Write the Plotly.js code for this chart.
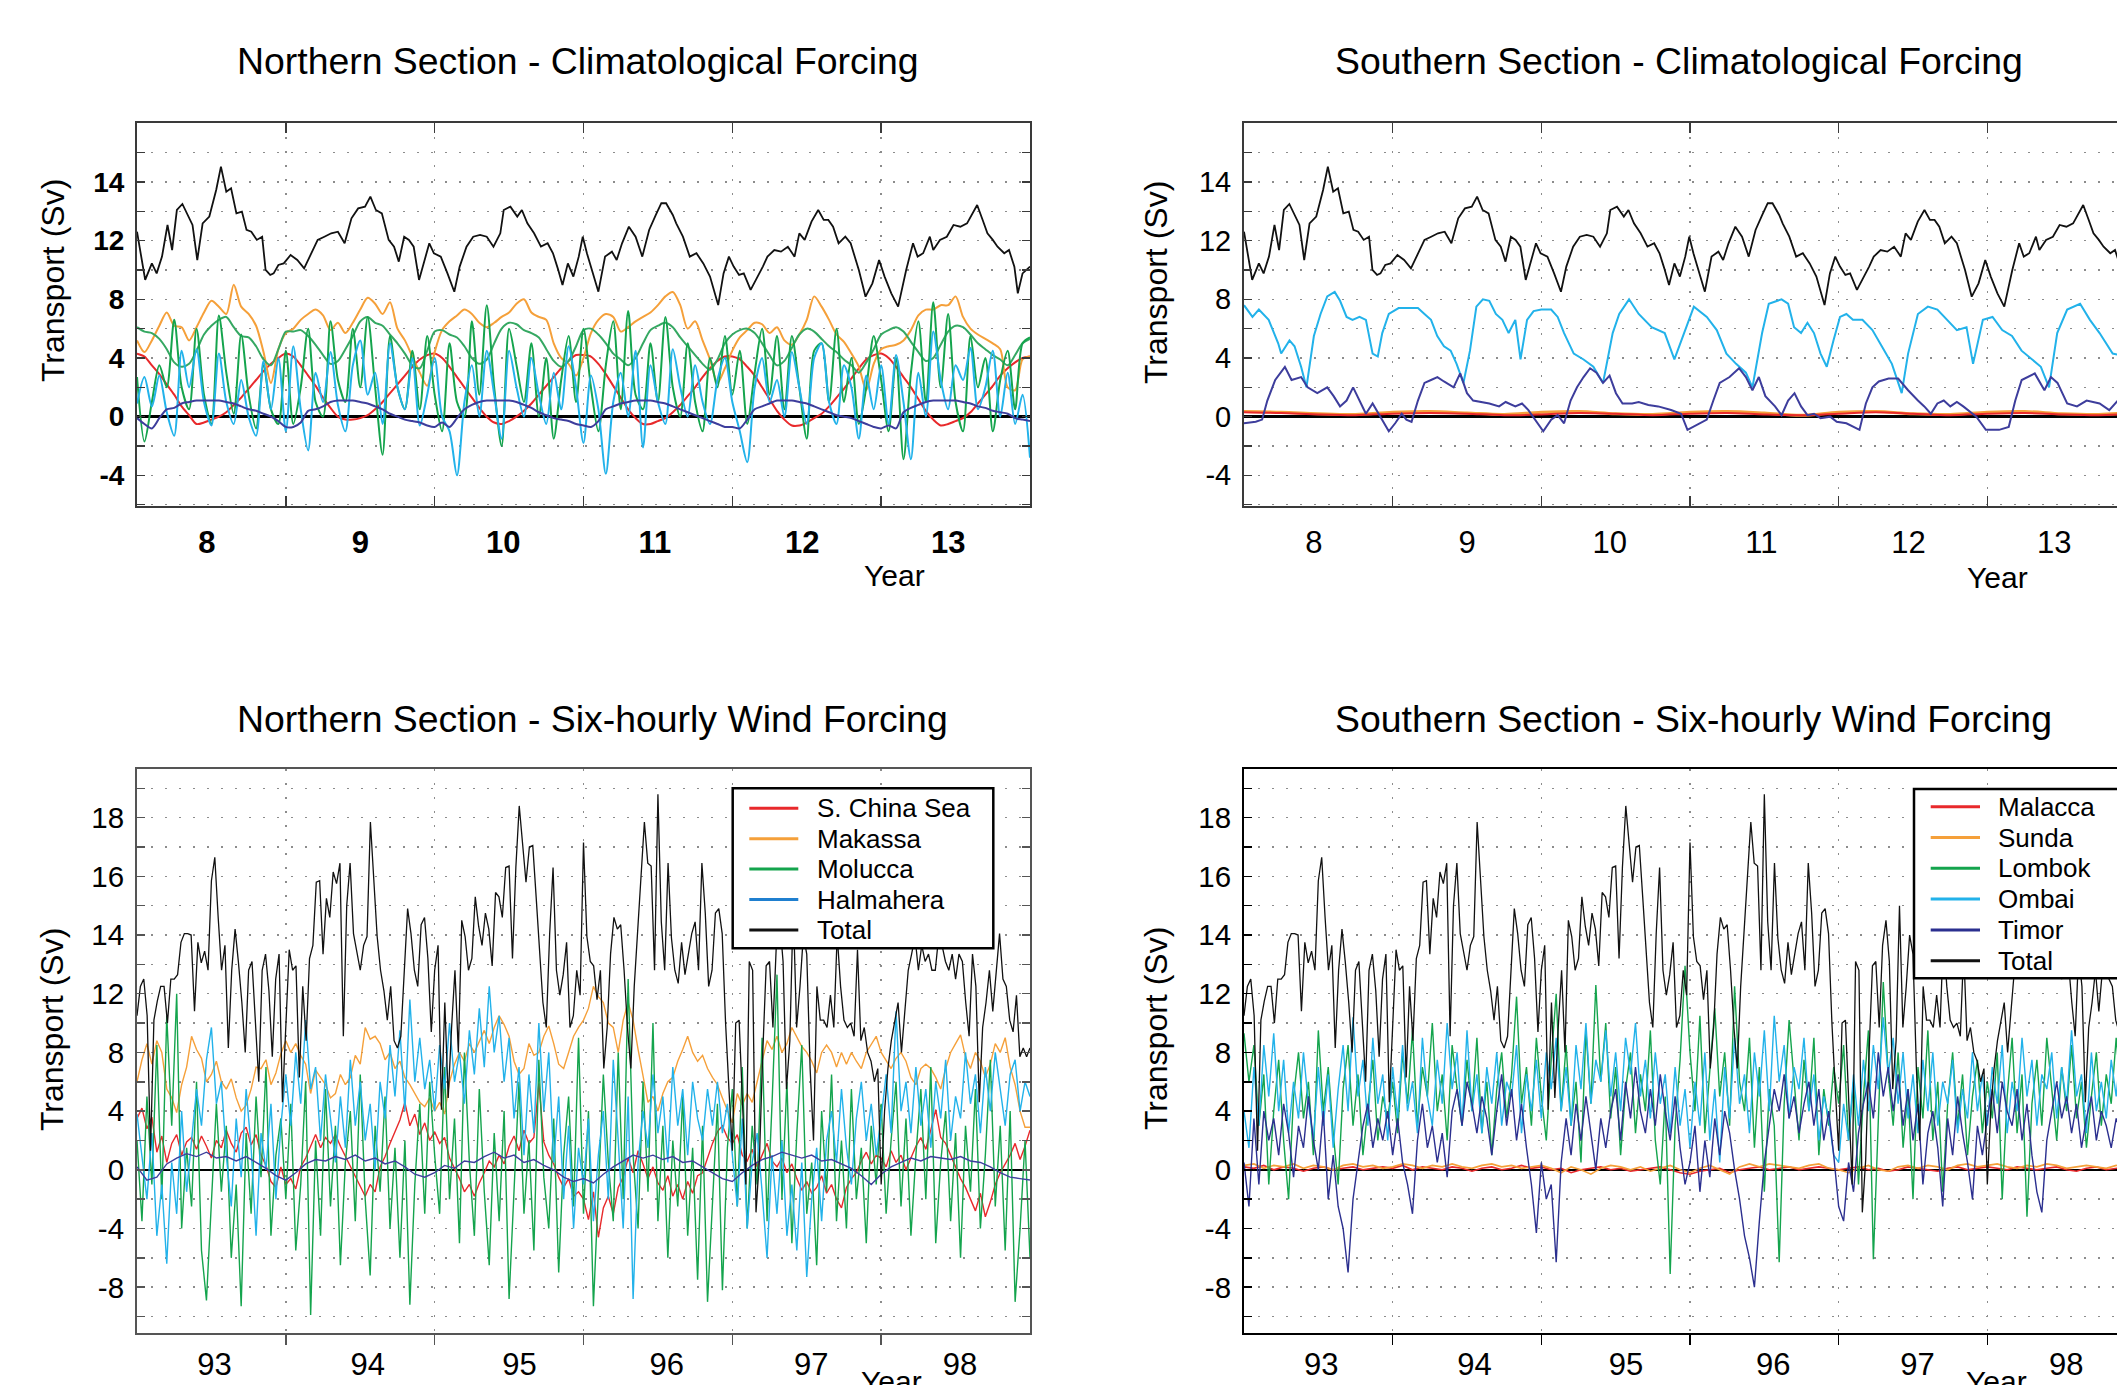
<!DOCTYPE html>
<html><head><meta charset="utf-8">
<script src="https://cdn.plot.ly/plotly-3.0.1.min.js"></script>
<style>html,body{margin:0;padding:0;overflow:hidden;background:#fff}#chart{width:2150px;height:1420px}</style>
</head><body><div id="chart"></div>
<script>
// ---------------- DATA ----------------
// Climatological forcing runs (model years 8-14); sampled every 0.05 yr unless paired with explicit years
const climStart = 8, climStep = 0.05, climSlowStep = 0.25;
const climTicks = ['8','9','10','11','12','13'];
const climTickPos = [8.47, 9.5, 10.46, 11.48, 12.47, 13.45];
const yTopTickVals = [-4, 0, 4, 8, 12, 16];
const yTopTickText = ['-4', '0', '4', '8', '12', '14'];

const climTotalYears = [8.000,8.055,8.100,8.132,8.168,8.205,8.236,8.268,8.305,8.373,8.405,8.441,8.486,8.532,8.564,8.600,8.632,8.668,8.705,8.736,8.768,8.805,8.841,8.864,8.895,8.918,8.950,8.986,9.032,9.077,9.123,9.168,9.214,9.259,9.305,9.350,9.395,9.441,9.486,9.532,9.568,9.605,9.645,9.691,9.727,9.759,9.795,9.827,9.859,9.895,9.932,9.964,9.995,10.041,10.086,10.132,10.168,10.214,10.259,10.305,10.350,10.395,10.441,10.464,10.509,10.555,10.586,10.623,10.668,10.714,10.759,10.795,10.827,10.859,10.895,10.932,10.968,10.995,11.023,11.055,11.100,11.145,11.191,11.223,11.259,11.305,11.350,11.395,11.441,11.486,11.523,11.555,11.600,11.623,11.668,11.714,11.759,11.805,11.850,11.905,11.941,11.977,12.009,12.045,12.077,12.123,12.159,12.205,12.236,12.282,12.327,12.373,12.418,12.450,12.486,12.532,12.577,12.614,12.645,12.677,12.714,12.759,12.795,12.850,12.895,12.941,12.986,13.023,13.068,13.114,13.168,13.214,13.245,13.282,13.327,13.350,13.395,13.441,13.486,13.532,13.577,13.614,13.645,13.682,13.714,13.750,13.782,13.827,13.859,13.895,13.918,13.950,14.000];
const climTotal = [12.61,9.32,10.45,9.77,10.91,13.07,11.36,14.09,14.5,13.07,10.68,13.18,13.64,15.45,17.05,15.34,15.57,13.86,13.98,12.73,12.61,12.05,12.27,10.0,9.66,9.77,10.34,10.45,11.02,10.68,10.11,11.02,12.05,12.27,12.5,12.61,11.82,13.52,14.2,14.32,15.0,14.09,13.86,12.05,11.59,10.57,12.27,12.05,11.59,9.32,10.68,11.82,11.14,10.91,9.77,8.52,10.23,11.59,12.27,12.39,12.27,11.59,12.5,14.09,14.32,13.64,14.09,13.18,12.5,11.59,11.82,11.14,10.11,8.98,10.45,9.55,10.91,12.27,11.14,10.0,8.52,10.91,11.25,10.68,11.82,12.95,12.27,10.91,12.73,13.75,14.55,14.55,13.75,13.18,12.27,10.91,11.14,10.45,9.55,7.61,9.77,10.91,10.23,9.66,9.77,8.64,9.32,10.23,10.91,11.36,11.25,11.59,10.91,12.5,12.05,13.3,14.09,13.41,13.41,12.95,11.82,12.27,11.82,10.0,8.18,9.09,10.68,9.55,8.41,7.5,10.0,11.82,10.91,11.14,12.27,11.36,12.05,12.27,13.07,12.95,13.18,13.86,14.43,13.41,12.5,12.05,11.59,11.14,11.36,10.23,8.41,9.77,10.23];

const climSChina = [4.3,4.1,3.5,2.9,2.2,1.5,0.7,0.1,-0.5,-0.4,-0.2,0.0,0.3,0.8,1.3,1.9,2.5,3.1,3.6,4.0,
 4.3,4.1,3.5,2.8,2.1,1.3,0.6,0.0,-0.2,-0.2,-0.1,0.1,0.5,1.0,1.6,2.2,2.8,3.4,3.9,4.2,
 4.3,4.0,3.4,2.7,2.0,1.3,0.6,0.0,-0.4,-0.5,-0.3,0.0,0.4,0.9,1.5,2.1,2.7,3.3,3.8,4.2,
 4.2,4.1,3.6,2.9,2.1,1.3,0.5,-0.1,-0.5,-0.5,-0.3,-0.1,0.3,0.8,1.4,2.0,2.7,3.3,3.8,4.1,
 4.1,3.9,3.4,2.8,2.0,1.2,0.4,-0.2,-0.6,-0.6,-0.4,-0.1,0.2,0.7,1.3,1.9,2.6,3.3,3.9,4.2,
 4.3,4.0,3.4,2.7,2.0,1.2,0.4,-0.2,-0.6,-0.5,-0.3,-0.1,0.3,0.9,1.5,2.1,2.8,3.3,3.7,4.0,4.1];
const climMakassa = [5.2,4.4,5.2,6.2,7.1,6.2,6.1,5.2,6.1,7.1,7.9,7.5,7.0,9.0,7.5,7.0,6.2,4.4,2.3,4.6,
 5.7,6.0,6.6,7.0,7.3,6.9,5.9,6.4,5.7,6.4,7.3,8.1,7.7,7.0,7.8,6.0,5.2,4.1,3.0,2.1,
 4.4,5.9,6.5,6.9,7.3,7.0,6.4,6.1,6.4,6.8,7.1,7.7,8.0,7.1,6.8,6.6,5.0,4.0,3.6,2.8,
 4.0,5.7,6.6,7.0,6.8,5.8,6.1,6.5,6.8,7.1,7.6,8.2,8.5,7.6,6.0,6.5,5.2,3.9,2.3,3.3,
 4.5,5.4,5.9,6.4,6.3,5.7,6.1,5.2,4.9,5.6,6.6,8.2,7.5,6.6,5.6,5.1,4.3,3.4,1.8,3.6,
 4.6,4.8,4.9,5.2,5.9,6.9,7.3,7.3,7.6,7.6,8.2,6.8,6.0,5.6,5.3,5.0,4.6,2.0,1.8,3.9,4.1];
const climMoluccaSmooth = [6.1,5.8,5.7,5.3,4.6,3.7,3.4,3.6,4.5,5.6,6.2,6.6,6.8,6.1,5.5,5.4,4.8,3.9,3.5,4.6,
 5.8,5.8,5.9,5.5,4.9,4.2,3.6,3.8,4.6,5.5,6.5,6.8,6.4,6.2,5.6,5.0,4.3,3.5,3.3,4.5,
 5.8,5.9,5.6,5.4,4.8,4.0,3.6,3.9,5.0,6.0,6.4,6.3,5.9,5.7,5.4,4.6,3.8,3.4,3.8,4.8,
 5.9,6.0,5.6,5.0,4.3,3.9,3.5,4.0,5.0,5.9,6.2,6.4,6.1,5.4,4.8,4.2,3.6,3.2,3.9,5.0,
 5.6,5.9,6.0,5.7,5.0,4.2,3.5,3.8,4.7,5.6,6.0,5.8,5.3,4.8,4.4,3.9,3.5,3.0,3.7,4.6,
 5.6,5.9,6.1,5.8,5.1,4.4,3.8,4.0,4.9,5.8,6.2,6.1,5.6,5.0,4.6,4.2,3.9,3.5,4.2,5.0,5.3];
const climMolucca = [2.7,-1.7,1.0,3.5,2.0,6.6,2.0,0.5,6.0,1.5,-0.5,6.9,3.0,0.2,5.6,1.5,-0.8,3.5,0.5,-0.5,
 4.5,-0.5,2.0,6.0,1.0,0.0,6.5,2.5,1.0,6.0,2.0,6.8,2.0,-2.6,5.5,2.0,0.5,4.5,0.5,5.5,
 1.5,-1.0,5.0,1.0,0.0,6.5,1.5,7.6,2.0,-2.0,6.0,3.5,1.0,5.0,0.0,4.0,-1.5,2.5,5.5,1.0,
 6.0,2.0,-1.0,3.5,6.5,0.5,7.2,1.5,0.5,5.0,1.0,6.8,2.0,0.0,5.0,1.0,-1.0,4.0,2.0,5.5,
 1.5,4.5,-0.5,3.0,6.0,1.5,5.5,0.5,5.5,2.0,-1.5,4.5,5.0,1.0,6.0,1.0,4.0,-0.5,2.0,5.5,
 2.5,-1.0,4.0,-2.9,3.0,6.5,1.0,7.8,2.0,7.0,1.0,-1.0,5.5,2.0,4.0,-1.0,2.5,4.5,0.5,5.0,5.4];
const climHalmahera = [0.9,2.7,0.7,2.8,0.3,-1.3,4.5,2.0,4.6,1.0,-0.6,4.3,1.0,-0.5,2.5,0.0,-1.3,3.8,0.5,4.0,
 -1.0,4.8,0.5,-2.3,3.0,1.0,4.4,0.8,-1.0,3.5,5.2,1.5,3.0,-0.5,5.0,2.0,0.5,4.0,-0.6,1.5,
 4.0,0.0,-1.0,-4.0,1.0,3.5,0.0,4.5,1.5,-1.5,4.5,2.0,0.0,4.0,1.5,-0.5,3.0,0.5,4.8,2.0,
 -1.8,2.8,0.5,-3.9,1.0,3.0,0.0,4.5,-2.1,3.5,1.0,-0.5,4.6,2.0,0.0,3.5,1.0,-0.5,2.5,4.0,
 1.0,-1.0,-3.1,2.0,4.0,1.0,2.5,0.0,4.4,2.0,-0.5,4.0,5.0,1.0,-0.5,3.5,2.0,-1.5,2.8,0.5,
 3.5,-0.5,4.2,1.0,-2.9,3.0,0.0,5.8,2.5,0.5,3.5,2.5,4.7,0.5,2.0,4.5,0.0,3.0,-0.5,1.5,-2.8];
const climNorthSmall = [-0.1,-0.5,-0.8,-0.1,0.5,0.6,0.9,1.0,1.1,1.1,1.1,1.1,1.0,0.9,0.7,0.5,0.4,0.2,0.0,-0.3,
 -0.7,-0.7,-0.4,0.4,0.5,0.7,1.0,1.1,1.1,1.1,1.0,0.9,0.7,0.5,0.2,0.0,-0.2,-0.3,-0.4,-0.6,
 -0.7,-0.4,-0.7,-0.1,0.5,0.8,1.0,1.1,1.1,1.1,1.1,1.0,0.8,0.6,0.3,0.1,-0.1,-0.2,-0.3,-0.5,
 -0.6,-0.7,-0.3,0.5,0.7,0.9,1.0,1.1,1.1,1.1,1.0,0.9,0.7,0.5,0.3,0.1,-0.1,-0.3,-0.5,-0.7,
 -0.7,-0.8,-0.2,0.5,0.7,0.9,1.1,1.1,1.1,1.0,0.9,0.7,0.5,0.3,0.1,0.0,-0.1,-0.3,-0.5,-0.7,
 -0.8,-0.6,-0.8,0.3,0.6,0.8,1.0,1.1,1.1,1.1,1.1,1.0,0.9,0.7,0.6,0.4,0.3,0.2,-0.1,-0.2,-0.3];

const climOmbaiYears = [8.000,8.057,8.100,8.166,8.230,8.250,8.306,8.340,8.384,8.420,8.470,8.515,8.560,8.610,8.646,8.690,8.730,8.777,8.820,8.865,8.900,8.930,8.974,9.040,9.105,9.170,9.214,9.258,9.300,9.345,9.390,9.430,9.476,9.520,9.563,9.607,9.650,9.694,9.738,9.780,9.825,9.860,9.904,9.948,10.000,10.066,10.110,10.153,10.218,10.284,10.350,10.415,10.480,10.524,10.590,10.655,10.742,10.830,10.895,10.960,11.026,11.113,11.180,11.245,11.310,11.376,11.420,11.485,11.530,11.616,11.660,11.700,11.747,11.790,11.834,11.878,11.920,11.965,12.009,12.052,12.096,12.160,12.227,12.290,12.358,12.424,12.467,12.533,12.600,12.664,12.730,12.795,12.860,12.904,12.970,13.035,13.100,13.166,13.230,13.297,13.360,13.415,13.470,13.537,13.624,13.690,13.755,13.843,14.000];
const climOmbai = [7.6,6.8,7.3,6.6,5.0,4.3,5.2,4.8,3.4,2.0,5.5,7.0,8.2,8.5,7.9,6.8,6.6,6.8,6.6,4.3,4.1,5.7,7.0,7.4,7.4,7.4,7.0,6.6,5.5,4.8,4.5,3.6,2.3,4.5,7.5,8.0,7.9,7.0,6.6,5.7,6.6,3.9,6.6,7.2,7.3,7.3,6.8,5.7,4.3,3.9,3.4,2.3,5.7,7.0,8.0,7.0,6.1,5.7,3.9,5.7,7.5,6.8,5.9,4.3,3.6,3.0,2.0,5.7,7.7,8.0,7.7,6.1,5.7,6.4,5.7,4.3,3.4,5.2,6.8,7.0,6.6,6.6,5.9,4.8,3.6,1.6,4.3,7.0,7.5,7.3,6.6,5.9,6.1,3.6,6.6,6.8,5.9,5.5,4.5,3.9,3.4,2.0,5.7,7.3,7.7,6.6,5.7,4.3,4.0];
const climTimorYears = [8.000,8.079,8.122,8.157,8.210,8.275,8.320,8.384,8.428,8.493,8.560,8.603,8.646,8.690,8.734,8.777,8.820,8.865,8.930,8.974,9.017,9.061,9.092,9.127,9.170,9.214,9.258,9.301,9.345,9.410,9.454,9.500,9.541,9.607,9.650,9.716,9.760,9.825,9.870,9.913,9.956,10.013,10.066,10.110,10.153,10.197,10.240,10.284,10.328,10.371,10.415,10.459,10.502,10.546,10.611,10.655,10.720,10.786,10.873,10.940,10.983,11.040,11.113,11.157,11.200,11.266,11.330,11.376,11.420,11.463,11.507,11.572,11.616,11.660,11.703,11.747,11.790,11.834,11.878,11.943,11.987,12.052,12.140,12.183,12.227,12.270,12.336,12.400,12.467,12.533,12.576,12.620,12.664,12.707,12.751,12.795,12.838,12.926,12.990,13.079,13.144,13.188,13.231,13.319,13.384,13.428,13.472,13.537,13.603,13.668,13.755,13.820,13.878,14.000];
const climTimor = [-0.45,-0.35,-0.2,1.1,2.5,3.4,2.5,2.7,2.0,1.6,2.0,1.4,0.7,1.1,2.0,1.1,0.2,0.9,-0.2,-1.0,-0.45,0.2,-0.2,-0.35,1.1,2.3,2.5,2.7,2.4,2.0,2.95,1.6,1.1,1.0,0.9,0.7,1.0,0.7,0.9,0.45,-0.2,-1.0,-0.2,0.1,-0.45,1.1,2.0,2.7,3.3,3.0,2.3,2.8,1.6,0.9,0.9,1.0,0.8,0.7,0.45,0.2,-0.9,-0.6,-0.2,1.1,2.3,2.7,3.3,2.7,1.8,2.7,1.4,0.7,0.1,1.1,1.6,0.7,0.1,0.2,-0.1,0.0,-0.35,-0.45,-0.9,0.9,2.0,2.4,2.6,2.6,1.8,1.1,0.7,0.2,0.9,1.1,0.7,1.0,0.7,0.0,-0.9,-0.9,-0.7,1.1,2.5,2.95,1.8,2.7,2.3,0.9,0.7,1.1,0.9,0.45,1.1,0.9];
const climMalacca = [0.3,0.25,0.15,0.1,0.2,0.25,0.2,0.1,0.15,0.25,0.2,0.1,0.2,0.25,0.15,0.1,0.2,0.3,0.2,0.1,0.2,0.25,0.15,0.1,0.2];
const climSunda = [0.35,0.3,0.2,0.15,0.3,0.35,0.25,0.15,0.3,0.35,0.2,0.15,0.3,0.35,0.25,0.1,0.3,0.35,0.2,0.15,0.3,0.35,0.2,0.15,0.3];

// Six-hourly wind forcing runs (1993-1999)
const windStart = 93, windStep = 1 / 30, windTotalStep = 1 / 44, windSlowStep = 1 / 15;
const windTicks = ['93','94','95','96','97','98'];
const windTickPos = [93.52, 94.55, 95.57, 96.56, 97.53, 98.53];
const yBotTickVals = [-8, -4, 0, 4, 8, 12, 16, 20, 24];
const yBotTickText = ['-8', '-4', '0', '4', '8', '12', '14', '16', '18'];

const windTotal = [10.5,12.5,13,10.5,1.3,10.2,11.5,12.5,12.5,10,
 13,13,13.3,15.5,16.1,16.1,16,10.8,15.5,14.1,
 14.9,13.6,19.7,21.3,17.2,13.6,15.3,8.3,13.6,16.4,
 14.1,11.4,8,13.6,14.2,9.7,6,13.6,14.7,12.2,
 7.7,13,14.7,4.6,9.7,15,13.6,13.9,6.3,12.5,
 8.8,14.4,15.3,19.6,19.7,14.7,18.5,17.2,20.3,19.5,
 20.9,9.1,18,20.9,16.1,14.7,13.6,15.3,15.9,23.7,
 19.5,15.9,13.6,12.2,10.2,12.5,8.8,8.3,9.1,13.9,
 17.8,16.1,13.6,12.5,16.7,17.2,14.4,9.4,13.6,15.3,
 4.1,11.4,4.9,9.7,13.6,8,17,15.9,13.6,14.4,
 18.6,16.6,15.3,17.5,16.4,13.9,18.9,18.6,17.2,20.6,
 20.7,14.4,20.6,24.8,22.1,19.6,22,22.1,18.6,14.7,
 11.4,9.7,16.1,20.6,13.6,11.9,13.3,15.5,9.7,10.5,
 13.6,11.9,22.3,15.9,14.2,13.9,11.6,13.6,6.9,9.7,
 14.7,17.2,16.4,16.7,13.6,9.7,6.9,12.5,16.1,20.3,
 23.7,20.9,20.7,13.6,25.6,16.9,13.6,20.9,15.8,13.6,
 12.7,15.5,13.3,14.7,16.1,16.9,13.6,20.9,17.5,12.5,
 13.6,17.5,17.8,16.1,10,5.5,1.3,10,10.2,4.6,
 -1,14.2,13.6,-2.9,0.7,8,13.9,14.2,9.7,15.3,
 17,14.2,5.5,8.8,18,9.7,12.5,16,14.7,6.9,
 2,12.5,10.2,10.2,9.7,11.9,9.7,16,12.5,10.2,
 9.7,10,9.1,15,8.8,9.7,8,7.4,6,6.9,
 -1,4,6.9,8.8,10.2,11.4,8,11.1,13.6,14.7,
 15.9,13.6,15.3,14.2,14.7,13.6,13.6,15.9,15.3,14.2,
 13.6,14.7,13,14.7,14.2,11.4,9.1,14.7,12.5,4.6,
 9.7,11.4,13.6,10.8,13.6,16.1,13,12.5,10.2,9.4,
 11.9,7.7,8.3,7.7,8.3];

const windSChina = [3.5,4.2,2.8,3.6,1.2,2.3,0.5,1.8,2.4,1.0,1.9,2.2,1.4,2.3,1.6,0.8,2.0,1.5,2.7,1.8,1.2,2.5,2.9,1.7,2.4,1.0,0.3,-0.8,-1.2,0.2,
 -1.0,-0.6,-1.3,0.2,0.8,1.6,2.4,1.5,2.2,1.8,2.4,1.6,0.9,0.2,-0.4,-1.2,-1.8,-1.0,-1.5,0.2,0.9,1.8,2.6,3.4,4.6,3.0,3.8,2.4,3.2,2.0,
 2.6,1.8,2.2,0.8,0.1,-0.6,-1.5,-1.0,-1.8,-0.9,-0.2,0.6,0.2,1.0,0.4,1.6,2.3,1.3,2.7,1.8,2.2,5.9,1.9,1.0,0.4,-0.5,-1.2,-0.6,-1.8,-1.5,
 -2.0,-3.4,-1.5,-4.6,-2.6,-1.8,-3.0,-1.2,-0.5,0.8,-0.2,1.3,0.4,-0.6,0.2,-0.9,-1.4,-0.4,-1.8,-1.0,-2.0,-0.8,-1.6,-0.4,-0.2,0.8,1.8,2.6,3.0,2.2,
 1.8,2.4,1.0,0.6,1.4,0.2,1.0,1.8,0.6,0.2,0.8,-0.2,0.4,-0.6,-1.4,-0.8,-1.6,-1.2,-0.4,-1.6,-1.0,-2.0,-2.6,-1.2,-0.6,-0.2,0.6,1.2,0.4,1.0,
 0.8,0.2,1.3,0.5,1.0,0.0,0.8,1.6,2.2,1.4,2.7,4.1,2.2,1.8,1.0,0.2,-0.6,-1.2,-2.0,-2.8,-1.6,-3.2,-2.2,-1.0,-0.2,0.4,1.0,1.8,0.7,1.6,2.7];
const windMakassa = [6.0,7.5,8.6,7.2,8.8,8.0,5.5,4.9,3.9,5.8,7.0,9.1,8.2,7.6,6.0,6.5,7.4,6.0,5.5,6.2,4.9,4.0,4.4,5.5,7.0,6.9,7.5,5.8,6.6,7.9,
 8.8,8.0,8.6,7.8,7.2,5.2,6.8,6.3,5.8,4.9,5.2,6.5,5.8,6.3,7.8,7.2,9.7,8.9,9.1,8.6,7.5,8.0,6.9,7.4,6.3,5.8,5.2,4.6,4.3,4.9,
 4.0,4.6,3.8,6.0,7.2,8.0,7.4,8.6,8.0,8.8,9.5,8.6,9.7,10.5,9.9,9.1,7.4,6.5,6.9,8.6,7.8,8.0,9.1,9.8,8.6,7.2,6.9,8.0,9.1,9.7,
 10.2,11.0,12.5,11.8,11.4,10.0,9.7,8.0,10.2,11.4,10.2,8.2,6.3,4.6,5.0,4.0,5.2,6.0,6.3,7.4,8.2,9.1,8.0,7.4,7.8,6.9,6.3,5.8,4.9,4.0,
 3.2,5.2,4.4,5.2,4.6,6.0,7.4,8.8,8.2,9.1,8.0,8.6,9.7,9.1,8.4,8.0,7.4,6.6,8.0,8.5,8.0,7.0,8.0,7.2,8.0,7.4,6.9,8.0,8.6,9.1,
 8.0,7.4,6.9,7.6,8.0,7.4,6.3,5.8,6.9,7.2,6.9,6.3,5.5,6.9,8.0,8.6,9.2,7.7,6.9,8.0,7.4,6.3,7.2,8.6,8.0,9.0,7.0,5.8,4.0,2.9,2.9];
const windMolucca = [2.0,-3.5,5.0,-1.0,8.5,-2.0,10.5,3.0,12.0,-4.0,1.5,-2.5,6.0,-5.5,-8.9,-2.0,4.5,-1.5,3.0,-6.0,-1.0,-9.3,2.5,-3.0,5.0,-0.5,7.0,-4.5,1.0,3.5,
 -2.0,4.5,-5.5,-1.0,6.0,-9.9,2.0,-4.5,5.5,-2.5,3.0,-6.5,0.5,4.0,-3.5,6.5,-2.0,-7.2,3.0,-1.5,5.0,-4.0,1.5,-6.0,2.0,-9.2,-1.0,4.5,-3.0,6.0,
 1.0,-3.0,7.0,-2.0,3.5,-5.0,8.0,0.5,-4.5,5.5,-1.5,-6.5,2.5,-3.5,4.0,-8.8,-1.0,6.0,-3.0,2.0,-5.5,7.5,-0.5,-4.0,3.5,-7.0,1.0,5.0,-2.5,9.0,
 -3.0,4.0,-9.3,-1.5,6.5,0.5,-3.5,8.0,-2.0,13.0,1.0,-4.0,6.0,-1.5,10.0,-3.5,3.0,-6.0,2.0,-2.5,5.0,-4.5,1.5,-7.5,3.0,-9.0,-2.0,4.5,-8.2,1.5,
 5.5,-2.5,7.0,-4.0,3.0,-1.0,9.0,-3.5,4.5,13.3,-2.0,6.0,-5.0,2.5,8.5,-3.0,0.5,-6.5,4.0,-1.5,6.5,-3.5,2.0,-4.0,5.5,-2.0,1.5,-5.0,3.0,-1.0,
 4.5,-3.0,2.0,6.0,-2.5,3.5,-4.5,1.0,5.5,-2.0,7.0,-5.0,0.5,4.0,-3.5,2.5,-6.0,3.0,-1.5,5.5,-4.0,1.0,7.5,-2.5,3.0,-5.5,4.0,-9.0,-4.0,2.0,-6.0];
const windHalmahera = [3.8,1.0,-2.0,2.5,-4.5,-1.0,-6.4,0.5,-3.0,4.0,-1.5,2.0,5.5,3.0,7.5,9.7,4.5,6.0,1.0,-2.5,3.5,-0.5,5.5,1.5,-4.5,2.5,0.0,4.5,-2.0,3.0,
 6.5,3.0,8.0,4.5,10.2,5.5,7.0,2.0,6.5,3.5,0.5,5.0,1.5,7.5,3.0,6.0,2.0,4.5,0.0,6.0,3.5,8.5,5.0,9.5,4.0,11.6,6.0,9.0,5.5,7.5,
 4.0,8.5,5.5,10.0,6.0,8.0,4.5,9.5,6.5,11.0,7.0,12.5,8.0,10.5,6.0,9.0,3.5,7.0,1.0,6.5,2.5,10.0,4.0,8.0,0.5,5.0,-2.0,3.0,-4.0,1.5,
 -1.0,3.5,-3.5,1.0,4.0,-2.0,7.5,2.0,-4.0,5.0,-8.8,0.5,4.0,1.5,6.5,2.5,5.0,0.5,7.0,3.0,5.5,1.0,6.0,3.5,2.0,5.5,3.0,6.0,2.5,4.5,
 1.0,-2.5,3.5,-4.0,0.5,2.5,-1.5,-6.0,1.0,-3.0,2.0,-4.5,-1.0,-5.5,0.5,-7.3,-2.0,1.5,-3.5,2.0,4.0,0.5,5.5,1.5,-1.0,3.5,6.0,2.0,4.5,1.0,
 3.5,6.5,2.5,10.8,4.0,6.0,2.5,7.0,3.0,5.5,1.5,6.0,3.5,7.5,2.0,5.0,3.5,8.0,4.5,6.5,2.5,7.0,4.0,8.0,5.5,3.0,6.5,7.5,4.0,6.0,5.0];
const windNorthSmall = [0.2,-0.7,-0.5,0.4,0.8,1.1,0.9,1.2,0.8,0.9,0.6,0.9,0.5,0.1,-0.4,
 -0.7,-0.2,0.4,0.7,0.6,0.9,0.7,1.0,0.6,0.8,0.4,0.6,0.2,-0.3,-0.5,
 -0.2,0.3,0.1,0.6,0.5,0.9,1.2,0.8,1.0,0.5,0.7,0.3,0.0,-0.5,-0.8,
 -0.6,-0.9,-0.3,0.2,0.6,1.0,0.8,1.0,0.7,0.9,0.5,0.6,0.2,-0.2,-0.6,
 -0.8,-0.2,0.3,0.7,0.9,1.2,1.0,0.8,1.0,0.6,0.7,0.4,0.1,-0.4,-1.0,
 -0.3,0.2,0.5,0.8,0.6,0.9,0.8,0.7,0.9,0.6,0.5,0.2,-0.2,-0.5,-0.6,-0.7];

const windMalacca = [0.2,0.1,0.3,0.0,0.2,0.1,-0.1,0.1,0.2,0.0,0.1,0.2,0.0,0.1,0.2,
 0.1,0.3,0.0,0.2,0.1,0.0,0.2,0.1,-0.1,0.1,0.2,0.0,0.1,0.3,0.1,
 0.2,0.0,0.1,-0.2,0.0,0.1,0.2,0.0,0.1,-0.1,0.0,0.1,0.2,0.0,-0.2,
 -0.3,-0.1,0.0,0.1,-0.2,0.0,0.1,0.2,0.0,0.1,0.2,0.0,0.1,0.2,0.1,
 0.0,0.1,0.2,0.0,0.1,-0.1,0.0,0.2,0.1,0.0,-0.1,0.1,0.2,0.0,0.1,
 0.2,0.1,0.0,0.2,0.1,0.0,0.1,0.2,0.0,-0.1,0.1,0.2,0.0,0.1,0.2,0.1];
const windSunda = [0.3,0.4,0.1,0.3,0.2,0.4,0.1,0.3,0.2,0.0,0.3,0.4,0.2,0.3,0.1,
 0.2,0.4,0.3,0.1,0.3,0.2,0.4,0.2,0.1,0.3,0.4,0.2,0.3,0.1,0.2,
 0.3,0.1,-0.2,0.2,0.0,-0.3,0.1,0.3,0.2,0.0,0.2,-0.1,0.1,0.3,0.0,
 -0.2,0.1,0.3,0.0,-0.3,0.2,0.4,0.2,0.4,0.3,0.2,0.1,0.3,0.4,0.1,
 0.0,-0.2,0.1,0.3,0.0,-0.1,0.2,0.3,0.1,0.3,0.2,0.0,0.3,0.4,0.2,
 0.3,0.4,0.2,0.1,0.3,0.2,0.4,0.3,0.1,0.2,0.3,0.2,0.1,0.3,0.2,0.2];
const windLombok = [9.3,6.0,8.5,3.0,6.5,-1.0,4.0,7.5,2.0,-2.0,5.0,8.0,3.5,6.0,1.0,9.5,4.0,7.0,2.5,-1.0,5.5,8.5,3.0,6.5,1.0,4.5,7.5,2.0,5.0,3.5,
 6.0,2.5,8.0,4.5,9.5,3.0,7.0,5.0,10.0,4.0,6.5,2.0,8.5,5.5,3.0,7.5,4.0,9.0,2.5,6.0,1.0,5.5,8.0,3.5,6.5,11.8,4.5,7.0,3.0,9.0,
 5.0,2.0,7.5,12.0,4.0,8.5,3.0,6.0,0.5,9.5,4.5,12.6,6.0,10.0,3.5,7.0,1.0,5.5,8.0,2.5,6.5,4.0,9.5,2.0,-1.0,5.0,-7.1,3.0,7.5,13.9,
 8.0,4.0,10.5,2.5,6.5,11.0,5.0,8.0,3.0,12.5,6.0,4.0,9.0,1.5,7.0,-1.5,5.5,3.0,-6.3,4.5,10.2,6.0,2.0,7.5,4.0,9.0,1.0,5.5,3.0,7.0,
 4.5,8.5,2.0,6.0,-1.0,5.0,9.5,-6.1,4.0,12.8,6.5,3.0,8.0,1.5,5.5,-2.0,7.0,3.5,9.5,2.0,6.0,-1.5,4.5,8.0,3.0,6.5,1.0,5.0,7.5,2.5,
 6.0,3.5,8.0,-2.0,5.0,9.0,2.5,6.5,-3.2,4.5,7.5,3.0,9.0,5.5,2.0,7.0,4.0,8.5,3.5,6.0,1.5,5.0,8.0,3.0,6.5,4.5,9.0,5.0,3.5,7.0,6.0];
const windOmbai = [4.0,1.5,7.0,3.0,8.5,5.0,9.3,4.0,7.5,2.5,6.0,3.5,8.0,4.5,2.0,7.0,3.0,6.5,1.5,5.5,8.5,4.0,10.4,5.0,7.5,3.0,9.0,4.5,6.5,2.0,
 7.0,3.5,8.5,4.0,6.0,2.5,9.0,5.0,3.0,7.5,4.5,10.0,5.5,8.0,3.0,9.5,4.0,6.5,2.5,7.0,4.5,8.0,3.0,6.0,5.0,8.5,2.5,6.5,4.0,7.5,
 3.5,8.0,5.5,9.0,4.0,7.0,3.0,8.5,5.5,10.0,4.5,7.5,6.0,9.5,5.0,8.0,4.0,9.0,6.5,10.0,5.0,7.5,3.5,8.0,4.5,6.5,2.5,7.0,3.0,5.5,
 1.5,6.0,3.0,8.0,2.0,5.5,0.5,7.0,3.5,9.0,4.5,6.5,2.5,8.0,5.0,9.5,4.0,10.5,6.0,8.5,3.5,7.0,5.5,9.0,4.0,6.5,2.0,5.0,3.5,1.0,
 0.5,4.5,2.0,6.5,3.0,7.5,4.0,8.5,5.5,10.4,6.5,9.0,4.5,8.0,3.5,6.5,2.5,7.5,4.0,8.0,3.0,6.0,4.5,7.5,2.5,5.5,3.5,8.0,4.0,6.5,
 3.0,7.0,4.5,8.5,2.5,6.0,4.0,9.0,5.0,7.5,3.0,6.5,5.5,8.0,3.5,7.0,4.5,9.5,5.0,6.5,2.5,8.0,4.0,6.0,3.5,7.5,5.0,8.5,4.0,6.0,5.5];
const windTimor = [0.5,-2.5,3.5,-1.0,4.0,2.0,3.5,1.0,4.5,2.5,-0.5,3.0,1.5,5.0,2.0,0.0,4.0,-2.0,1.0,-2.5,-4.0,-7.0,-2.0,0.5,3.0,4.5,1.5,3.5,2.0,4.0,
 1.0,3.5,0.5,-1.0,-3.0,2.0,4.5,1.5,3.0,0.5,2.5,-0.5,4.0,5.5,3.0,6.0,4.5,2.5,5.0,3.5,1.0,4.0,6.5,3.0,5.5,2.0,4.5,1.5,-1.0,-4.3,
 0.5,-2.0,-1.0,-6.3,0.5,3.5,1.0,4.5,2.0,5.0,2.5,0.0,3.5,1.5,4.0,5.5,2.0,6.0,3.5,7.0,4.0,2.5,5.5,3.0,6.5,4.0,2.0,5.0,1.5,-1.0,
 0.5,3.0,-1.5,2.0,-0.5,3.5,1.0,4.0,2.5,0.0,-2.0,-4.5,-6.0,-8.0,-3.5,0.5,3.0,5.5,4.0,6.5,3.5,5.0,2.5,4.5,6.0,3.0,5.5,2.0,4.0,1.0,
 -2.5,-3.5,0.5,-1.5,2.5,4.5,6.0,3.5,8.0,5.0,7.0,4.0,6.5,3.0,5.5,2.0,4.5,-1.0,2.5,4.0,1.5,-2.5,3.5,1.0,5.0,2.5,0.5,-2.0,3.0,1.0,
 3.5,5.5,2.5,6.0,4.0,3.0,5.5,2.0,4.5,1.0,-1.5,-2.9,2.0,4.0,6.0,3.5,5.0,2.5,4.5,1.5,3.5,5.0,2.0,4.0,3.0,1.5,3.5,2.5,4.5,2.0,3.0];

const northLegend = ['S. China Sea', 'Makassa', 'Molucca', 'Halmahera', 'Total'];
const southLegend = ['Malacca', 'Sunda', 'Lombok', 'Ombai', 'Timor', 'Total'];

// ---------------- STYLE / LAYOUT ----------------
const W = 2150, H = 1420;
const px = v => v / W, py = v => 1 - v / H;
const FONT = 'Liberation Sans, Arial, Helvetica, sans-serif';
const C = {red:'#e8292b', orange:'#f5a03a', green:'#14a44d', green2:'#35a862', cyan:'#22b2ea',
           blue:'#1f7fcf', purple:'#3d3d9c', timor:'#2b2f8f', black:'#111111'};
const GRID = '#8c8c8c', DASH = '2px,12px', FRAME = '#3a3a3a';
const northLegendColors = [C.red, C.orange, C.green, C.blue, C.black];
const southLegendColors = [C.red, C.orange, C.green, C.cyan, C.timor, C.black];

function grid(start, step, n) { return Array.from({length: n}, (_, i) => +(start + i * step).toFixed(5)); }
function line(x, y, color, width, axes, extra) {
  return Object.assign({type:'scatter', mode:'lines', x:x, y:y, xaxis:axes[0], yaxis:axes[1],
    line:{color:color, width:width}, showlegend:false, hoverinfo:'skip'}, extra || {});
}

const tC = grid(climStart, climStep, 121);
const tCs = grid(climStart, climSlowStep, 25);
const tW = grid(windStart, windStep, 181);
const tWT = grid(windStart, windTotalStep, windTotal.length);
const tWs = grid(windStart, windSlowStep, 91);
const sp = c => ({line:{color:c, width:2, shape:'spline', smoothing:0.8}});

const traces = [];
const TL = ['x','y'];
traces.push(line(tC, climSChina, C.red, 2, TL, sp(C.red)));
traces.push(line(tC, climMakassa, C.orange, 2, TL, sp(C.orange)));
traces.push(line(tC, climMoluccaSmooth, C.green2, 2, TL, sp(C.green2)));
traces.push(line(tC, climMolucca, C.green, 2, TL, sp(C.green)));
traces.push(line(tC, climHalmahera, C.cyan, 2, TL, sp(C.cyan)));
traces.push(line(tC, climNorthSmall, C.purple, 2, TL, sp(C.purple)));
traces.push(line(climTotalYears, climTotal, C.black, 1.8, TL));
const TR = ['x2','y2'];
traces.push(line(tCs, climSunda, C.orange, 3, TR, {line:{color:C.orange, width:3, shape:'spline'}}));
traces.push(line(tCs, climMalacca, C.red, 2, TR, sp(C.red)));
traces.push(line(climOmbaiYears, climOmbai, C.cyan, 2, TR));
traces.push(line(climTimorYears, climTimor, C.purple, 2, TR));
traces.push(line(climTotalYears, climTotal, C.black, 1.8, TR));
const BL = ['x3','y3'];
traces.push(line(tW, windSChina, C.red, 1.4, BL, {name:northLegend[0]}));
traces.push(line(tW, windMakassa, C.orange, 1.4, BL, {name:northLegend[1]}));
traces.push(line(tW, windMolucca, C.green, 1.4, BL, {name:northLegend[2]}));
traces.push(line(tW, windHalmahera, C.cyan, 1.4, BL, {name:northLegend[3]}));
traces.push(line(tWs, windNorthSmall, C.purple, 1.4, BL));
traces.push(line(tWT, windTotal, C.black, 1.3, BL, {name:northLegend[4]}));
const BR = ['x4','y4'];
traces.push(line(tWs, windMalacca, C.red, 1.6, BR, {name:southLegend[0]}));
traces.push(line(tWs, windSunda, C.orange, 1.6, BR, {name:southLegend[1]}));
traces.push(line(tW, windLombok, C.green, 1.4, BR, {name:southLegend[2]}));
traces.push(line(tW, windOmbai, C.cyan, 1.4, BR, {name:southLegend[3]}));
traces.push(line(tW, windTimor, C.timor, 1.4, BR, {name:southLegend[4]}));
traces.push(line(tWT, windTotal, C.black, 1.3, BR, {name:southLegend[5]}));

function xAxis(domain, range, anchor, tickPos, tickText, boundaries, bold, tickSide, frame, standoff) {
  return {domain:domain, range:range, anchor:anchor, showline:true, linecolor:frame, linewidth:2,
    mirror: tickSide === 'inside' ? 'ticks' : true,
    tickmode:'array', tickvals:tickPos, ticktext:tickText, ticks:'', showgrid:false, zeroline:false,
    tickfont:{family:FONT, size:31, color:'#000', weight: bold ? 'bold' : 'normal'}, ticklabelstandoff:standoff,
    minor:{tickmode:'array', tickvals:boundaries, ticks:tickSide, ticklen:10, tickwidth:1.5, tickcolor:frame,
      showgrid:true, gridcolor:GRID, gridwidth:1.5, griddash:DASH},
    fixedrange:true};
}
function yAxis(domain, range, anchor, vals, text, bold, size, frame, zw) {
  return {domain:domain, range:range, anchor:anchor, showline:true, linecolor:frame, linewidth:2, mirror:'ticks',
    tickmode:'array', tickvals:vals, ticktext:text, ticks:'inside', ticklen:8, tickwidth:1.5, tickcolor:frame,
    showgrid:true, gridcolor:GRID, gridwidth:1.5, griddash:DASH,
    zeroline:true, zerolinecolor:'#000', zerolinewidth:zw,
    tickfont:{family:FONT, size:size, color:'#000', weight: bold ? 'bold' : 'normal'}, ticklabelstandoff:5,
    minor:{tickmode:'linear', tick0:0, dtick:2, ticks:'inside', ticklen:8, tickwidth:1.5, tickcolor:frame,
      showgrid:true, gridcolor:GRID, gridwidth:1.5, griddash:DASH},
    fixedrange:true};
}

const xL = [px(137), px(1030)], xR = [px(1244), px(2136)];
const yT = [py(505.7), py(123.3)], yB = [py(1333.4), py(768.5)];
const climBounds = [9, 10, 11, 12, 13], windBounds = [94, 95, 96, 97, 98];

function ann(text, x, y, size, opts) {
  return Object.assign({text:text, x:x, y:y, xref:'paper', yref:'paper', showarrow:false,
    font:{family:FONT, size:size, color:'#000'}, xanchor:'center', yanchor:'middle'}, opts || {});
}

// Boxed legends drawn inside the lower panels
const shapes = [], legendTexts = [];
function addLegend(names, colors, box, firstY, gap, lineX0, lineX1, textX) {
  shapes.push({type:'rect', xref:'paper', yref:'paper', layer:'above', x0:px(box[0]), x1:px(box[1]),
    y0:py(box[3]), y1:py(box[2]), fillcolor:'#fff', line:{color:'#000', width:2.5}});
  names.forEach((n, i) => {
    const yy = firstY + i * gap;
    shapes.push({type:'line', xref:'paper', yref:'paper', layer:'above', x0:px(lineX0), x1:px(lineX1),
      y0:py(yy), y1:py(yy), line:{color:colors[i], width:3}});
    legendTexts.push(ann(n, px(textX), py(yy), 26, {xanchor:'left'}));
  });
}
addLegend(northLegend, northLegendColors, [732.7, 993.3, 788.3, 948.3], 808.3, 30.4, 749.3, 798.3, 814.5);
addLegend(southLegend, southLegendColors, [1914, 2170, 789, 978.3], 806.7, 30.8, 1930.7, 1980, 1995.5);

const layout = {
  width:W, height:H, margin:{l:0, r:0, t:0, b:0}, paper_bgcolor:'#fff', plot_bgcolor:'#fff',
  font:{family:FONT, color:'#000'}, showlegend:false,
  xaxis: xAxis(xL, [8, 14], 'y', climTickPos, climTicks, climBounds, true, 'inside', FRAME, 8),
  yaxis: yAxis(yT, [-6.07, 20], 'x', yTopTickVals, yTopTickText, true, 28, FRAME, 3),
  xaxis2: xAxis(xR, [8, 14], 'y2', climTickPos, climTicks, climBounds, false, 'inside', FRAME, 8),
  yaxis2: yAxis(yT, [-6.07, 20], 'x2', yTopTickVals, yTopTickText, false, 29, FRAME, 3),
  xaxis3: xAxis(xL, [93, 99], 'y3', windTickPos, windTicks, windBounds, false, 'outside', '#555', 2),
  yaxis3: yAxis(yB, [-11.15, 27.35], 'x3', yBotTickVals, yBotTickText, false, 29.5, '#555', 2.5),
  xaxis4: xAxis(xR, [93, 99], 'y4', windTickPos, windTicks, windBounds, false, 'outside', '#000', 2),
  yaxis4: yAxis(yB, [-11.15, 27.35], 'x4', yBotTickVals, yBotTickText, false, 29.5, '#000', 2.5),
  shapes: shapes,
  annotations: [
    ann('Northern Section - Climatological Forcing', px(235), py(60.7), 37.4, {xanchor:'left'}),
    ann('Southern Section - Climatological Forcing', px(1333), py(60.7), 37.4, {xanchor:'left'}),
    ann('Northern Section - Six-hourly Wind Forcing', px(235), py(718.5), 37.4, {xanchor:'left'}),
    ann('Southern Section - Six-hourly Wind Forcing', px(1333), py(718.5), 37.4, {xanchor:'left'}),
    ann('Transport (Sv)', px(53), py(281), 32, {textangle:-90}),
    ann('Transport (Sv)', px(1156), py(283), 32, {textangle:-90}),
    ann('Transport (Sv)', px(52), py(1030), 32, {textangle:-90}),
    ann('Transport (Sv)', px(1156), py(1029), 32, {textangle:-90}),
    ann('Year', px(894), py(575), 30),
    ann('Year', px(1997), py(577), 30),
    ann('Year', px(891), py(1381), 30),
    ann('Year', px(1996), py(1381), 30)
  ].concat(legendTexts)
};

Plotly.newPlot('chart', traces, layout, {displayModeBar:false, staticPlot:true});
</script>
</body></html>
